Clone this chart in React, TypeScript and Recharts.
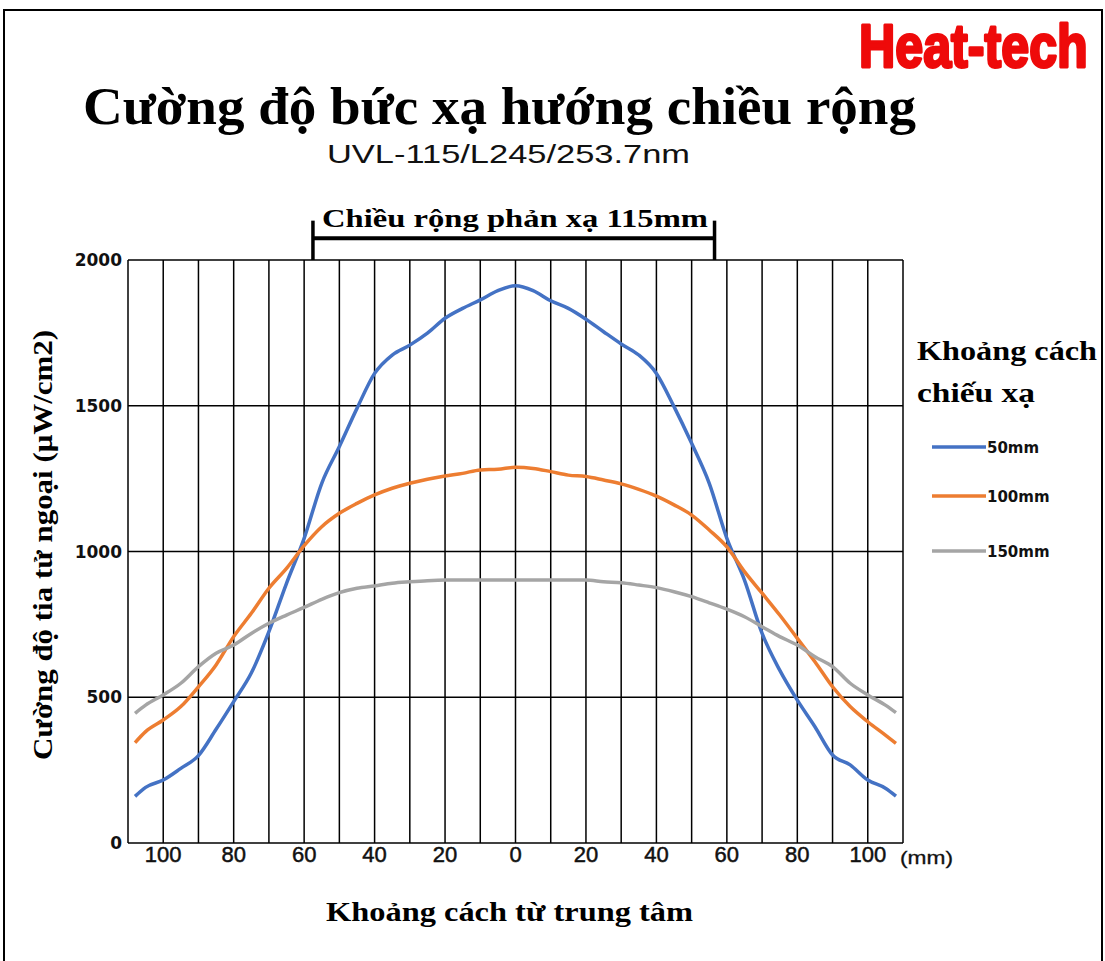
import React from 'react';
import { LineChart, Line, XAxis, YAxis, CartesianGrid, ReferenceLine } from 'recharts';

// distance from centre (mm)
const xPositions = [
  -108, -105, -100, -95, -90, -85, -80, -75, -70, -65, -60, -55, -50, -45, -40, -35, -30, -25, -20, -15, -10, -5,
  0, 5, 10, 15, 20, 25, 30, 35, 40, 45, 50, 55, 60, 65, 70, 75, 80, 85, 90, 95, 100, 105, 108,
];

// irradiance (µW/cm2) at 50 mm
const series50 = [
  160, 191, 216, 256, 300, 390, 485, 583, 725, 891, 1045, 1234, 1360, 1491, 1611, 1674, 1708, 1749, 1800, 1834, 1863, 1895,
  1912, 1895, 1860, 1834, 1797, 1754, 1712, 1674, 1611, 1497, 1371, 1234, 1045, 902, 719, 593, 490, 399, 302, 268, 216, 188, 161,
];

// irradiance at 100 mm
const series100 = [
  344, 382, 422, 468, 536, 611, 708, 788, 874, 942, 1020, 1085, 1131, 1165, 1194, 1217, 1234, 1248, 1259, 1268, 1280, 1282,
  1289, 1285, 1274, 1262, 1257, 1245, 1232, 1213, 1190, 1160, 1125, 1074, 1016, 931, 857, 782, 702, 622, 536, 468, 416, 370, 342,
];

// irradiance at 150 mm
const series150 = [
  445, 473, 508, 548, 605, 651, 679, 719, 754, 782, 808, 836, 859, 874, 882, 891, 896, 900, 902, 902, 902, 902,
  902, 902, 902, 902, 902, 896, 893, 885, 876, 862, 845, 824, 802, 776, 742, 708, 679, 639, 605, 548, 508, 473, 447,
];

const seriesKeys = ['s50', 's100', 's150'];
const seriesNames = ['50mm', '100mm', '150mm'];
const seriesColors = ['#4472C4', '#ED7D31', '#A5A5A5'];

const xTicks = [-110, -100, -90, -80, -70, -60, -50, -40, -30, -20, -10, 0, 10, 20, 30, 40, 50, 60, 70, 80, 90, 100, 110];
const yTicks = [0, 500, 1000, 1500, 2000];
const bracketRange = [-57.5, 56.5];
const bracketLevels = [2000, 2075, 2135];

const titleText = 'Cường độ bức xạ hướng chiều rộng';
const subtitleText = 'UVL-115/L245/253.7nm';
const brandText = 'Heat-tech';
const bracketText = 'Chiều rộng phản xạ 115mm';
const yLabelText = 'Cường độ tia tử ngoại (μW/cm2)';
const xLabelText = 'Khoảng cách từ trung tâm';
const legendTitle = ['Khoảng cách', 'chiếu xạ'];
const unitText = '(mm)';

const data = xPositions.map((x, i) => ({
  x,
  s50: series50[i],
  s100: series100[i],
  s150: series150[i],
}));

const SERIF = '"Liberation Serif", "Times New Roman", serif';
const SANS = '"Liberation Sans", Arial, sans-serif';
const WIDE = '"DejaVu Sans", Verdana, sans-serif';

const XTick = (props: any) => {
  const { x, y, payload } = props;
  const v = payload.value;
  if (v % 20 !== 0) return <g />;
  return (
    <text
      x={x}
      y={y}
      dy={11}
      textAnchor="middle"
      fontFamily={SANS}
      fontSize={22}
      fill="#111"
      stroke="#111"
      strokeWidth={0.5}
    >
      {Math.abs(v)}
    </text>
  );
};

const legendLineY = [447, 496, 551];

export default function App() {
  return (
    <div style={{ position: 'absolute', left: 0, top: 0, width: 1105, height: 961, background: '#fff' }}>
      <svg width={1105} height={961} style={{ position: 'absolute', left: 0, top: 0 }}>
        <rect x={4} y={10} width={1098} height={960} fill="none" stroke="#000" strokeWidth={2} />
        <g transform="translate(859,67) scale(0.81,1)">
          <text
            x={0}
            y={0}
            fontFamily={SANS}
            fontWeight="bold"
            fontSize={62}
            fill="#ee0a0a"
            stroke="#ee0a0a"
            strokeWidth={3}
            strokeLinejoin="round"
          >
            {brandText}
          </text>
        </g>
        <text x={83} y={124} fontFamily={SERIF} fontWeight="bold" fontSize={52} fill="#000" textLength={833} lengthAdjust="spacingAndGlyphs">
          {titleText}
        </text>
        <text x={327} y={163} fontFamily={SANS} fontSize={25} fill="#111" textLength={363} lengthAdjust="spacingAndGlyphs">
          {subtitleText}
        </text>
        <text x={322} y={227} fontFamily={SERIF} fontWeight="bold" fontSize={26} fill="#000" textLength={386} lengthAdjust="spacingAndGlyphs">
          {bracketText}
        </text>
        <text
          x={0}
          y={0}
          transform="translate(52,545) rotate(-90)"
          textAnchor="middle"
          fontFamily={SERIF}
          fontWeight="bold"
          fontSize={27}
          fill="#000"
          textLength={430}
          lengthAdjust="spacingAndGlyphs"
        >
          {yLabelText}
        </text>
        <text x={326} y={921} fontFamily={SERIF} fontWeight="bold" fontSize={28} fill="#000" textLength={367} lengthAdjust="spacingAndGlyphs">
          {xLabelText}
        </text>
        <text x={900} y={864} fontFamily={SANS} fontSize={19} fill="#111" stroke="#111" strokeWidth={0.3} textLength={53} lengthAdjust="spacingAndGlyphs">
          {unitText}
        </text>
        <text x={917} y={360} fontFamily={SERIF} fontWeight="bold" fontSize={28} fill="#000" textLength={180} lengthAdjust="spacingAndGlyphs">
          {legendTitle[0]}
        </text>
        <text x={917} y={402} fontFamily={SERIF} fontWeight="bold" fontSize={28} fill="#000" textLength={118} lengthAdjust="spacingAndGlyphs">
          {legendTitle[1]}
        </text>
        {seriesNames.map((name, i) => (
          <g key={name}>
            <line x1={932} x2={986} y1={legendLineY[i]} y2={legendLineY[i]} stroke={seriesColors[i]} strokeWidth={3.5} />
            <text x={987} y={legendLineY[i] + 6} fontFamily={WIDE} fontWeight="bold" fontSize={15} fill="#111">
              {name}
            </text>
          </g>
        ))}
      </svg>
      <div style={{ position: 'absolute', left: 0, top: 0 }}>
        <LineChart width={1105} height={961} data={data} margin={{ top: 260, right: 202, bottom: 88, left: 68 }}>
          <CartesianGrid stroke="#000" strokeWidth={1.5} strokeOpacity={1} />
          <XAxis
            dataKey="x"
            type="number"
            domain={[-110, 110]}
            ticks={xTicks}
            interval={0}
            axisLine={false}
            tickLine={false}
            height={30}
            tick={<XTick />}
            allowDataOverflow
          />
          <YAxis
            type="number"
            domain={[0, 2000]}
            ticks={yTicks}
            interval={0}
            axisLine={false}
            tickLine={false}
            width={60}
            tickMargin={0}
            tick={{ fontFamily: WIDE, fontWeight: 'bold', fontSize: 17, fill: '#111' }}
            allowDataOverflow
          />
          {seriesKeys.map((k, i) => (
            <Line
              key={k}
              type="monotone"
              dataKey={k}
              name={seriesNames[i]}
              stroke={seriesColors[i]}
              strokeWidth={3.5}
              dot={false}
              isAnimationActive={false}
            />
          ))}
          <ReferenceLine
            segment={[{ x: bracketRange[0], y: bracketLevels[1] }, { x: bracketRange[1], y: bracketLevels[1] }]}
            stroke="#000"
            strokeWidth={4}
            ifOverflow="visible"
          />
          <ReferenceLine
            segment={[{ x: bracketRange[0], y: bracketLevels[0] }, { x: bracketRange[0], y: bracketLevels[2] }]}
            stroke="#000"
            strokeWidth={3.5}
            ifOverflow="visible"
          />
          <ReferenceLine
            segment={[{ x: bracketRange[1], y: bracketLevels[0] }, { x: bracketRange[1], y: bracketLevels[2] }]}
            stroke="#000"
            strokeWidth={3.5}
            ifOverflow="visible"
          />
        </LineChart>
      </div>
    </div>
  );
}
